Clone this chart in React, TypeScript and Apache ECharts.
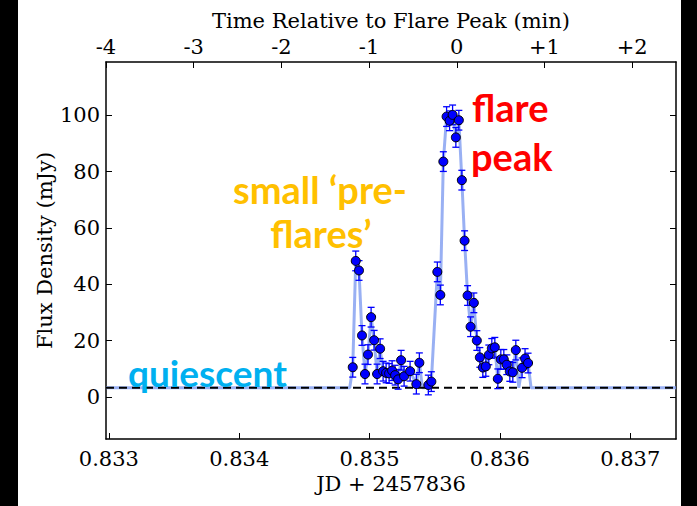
import React, { useEffect, useRef } from "react";
import * as echarts from "echarts";

// Observed samples (JD - 2457836), flux density (mJy) and 1-sigma errors
const obsTime = [
  0.834871, 0.834894, 0.834919, 0.834942, 0.834965, 0.834988, 0.835012, 0.835035,
  0.835058, 0.835081, 0.835104, 0.835127, 0.835150, 0.835173, 0.835196, 0.835219,
  0.835242, 0.835265, 0.835311, 0.835359, 0.835382, 0.835451, 0.835474, 0.835520,
  0.835543, 0.835566, 0.835591, 0.835614, 0.835637, 0.835662, 0.835685, 0.835708,
  0.835729, 0.835752, 0.835775, 0.835800, 0.835823, 0.835846, 0.835869, 0.835892,
  0.835915, 0.835938, 0.835961, 0.835984, 0.836007, 0.836030, 0.836053, 0.836076,
  0.836099, 0.836122, 0.836170, 0.836193, 0.836216,
];
const obsFlux = [
  10.5, 48.3, 44.9, 21.8, 8.1, 15.0, 28.3, 20.1,
  8.1, 17.1, 9.1, 8.5, 8.3, 9.3, 7.7, 6.2,
  13.0, 7.3, 9.1, 4.5, 12.1, 4.2, 5.4, 44.4,
  36.2, 83.6, 99.6, 98.1, 100.2, 92.2, 98.3, 77.0,
  55.5, 36.0, 24.9, 33.4, 20.0, 14.0, 10.4, 10.8,
  14.9, 17.2, 17.6, 6.4, 13.3, 13.3, 11.4, 9.0,
  8.7, 16.6, 10.3, 13.6, 12.0,
];
const obsErr = [
  3.5, 3.5, 3.5, 3.5, 3.5, 3.5, 3.5, 3.5,
  3.5, 3.5, 3.5, 3.5, 3.5, 3.5, 3.5, 3.5,
  3.5, 3.5, 3.5, 3.5, 3.5, 3.5, 3.5, 3.5,
  3.5, 3.5, 3.5, 3.5, 3.5, 3.5, 3.5, 3.5,
  3.5, 3.5, 3.5, 3.5, 3.5, 3.5, 3.5, 3.5,
  3.5, 3.5, 3.5, 3.5, 3.5, 3.5, 3.5, 3.5,
  3.5, 3.5, 3.5, 3.5, 3.5,
];
// Samples at the quiescent level (line only, no marker)
const baseTime = [0.834848, 0.835405, 0.835428, 0.836145, 0.836239];
const quiescentLevel = 3.2;

const xMin = 0.832978;
const xMax = 0.837351;
const yMin = -15;
const yMax = 119;
const jdTicks = [0.833, 0.834, 0.835, 0.836, 0.837];
const fluxTicks = [0, 20, 40, 60, 80, 100];
const minuteMin = -4;
const minuteMax = 2.5;

const SERIF = "DejaVu Serif";
const FS = 21;

export default function App() {
  const ref = useRef<HTMLDivElement>(null);
  useEffect(() => {
    if (!ref.current) return;
    const chart = echarts.init(ref.current, undefined, { renderer: "svg" });

    const lineData: number[][] = [[xMin, quiescentLevel], [xMax, quiescentLevel]];
    obsTime.forEach((t, i) => lineData.push([t, obsFlux[i]]));
    baseTime.forEach((t) => lineData.push([t, quiescentLevel]));
    lineData.sort((a, b) => a[0] - b[0]);

    const pts = obsTime.map((t, i) => [t, obsFlux[i], obsErr[i]]);

    const axisLineStyle = { color: "#000", width: 1.5 };
    const labelStyle = { fontFamily: SERIF, fontSize: FS, color: "#000" };
    const nameStyle = { fontFamily: SERIF, fontSize: FS, color: "#000" };

    const option: any = {
      animation: false,
      backgroundColor: "#fff",
      grid: { left: 106, right: 21, top: 62, bottom: 67, containLabel: false },
      xAxis: [
        {
          type: "value",
          position: "bottom",
          min: xMin,
          max: xMax,
          axisLine: { show: true, onZero: false, lineStyle: axisLineStyle },
          axisTick: { show: true, inside: true, length: 6, customValues: jdTicks, lineStyle: { color: "#000", width: 1 } },
          axisLabel: { ...labelStyle, margin: 9, customValues: jdTicks, formatter: (v: number) => v.toFixed(3) },
          splitLine: { show: false },
          name: "JD + 2457836",
          nameLocation: "middle",
          nameGap: 31,
          nameTextStyle: nameStyle,
        },
        {
          type: "value",
          position: "top",
          min: minuteMin,
          max: minuteMax,
          interval: 1,
          axisLine: { show: true, onZero: false, lineStyle: axisLineStyle },
          axisTick: { show: true, inside: true, length: 6, lineStyle: { color: "#000", width: 1 } },
          axisLabel: {
            ...labelStyle,
            margin: 5,
            showMinLabel: true,
            showMaxLabel: false,
            formatter: (v: number) => (v > 0 ? "+" + v : String(v)),
          },
          splitLine: { show: false },
          name: "Time Relative to Flare Peak (min)",
          nameLocation: "middle",
          nameGap: 30,
          nameTextStyle: nameStyle,
        },
      ],
      yAxis: [
        {
          type: "value",
          position: "left",
          min: yMin,
          max: yMax,
          axisLine: { show: true, onZero: false, lineStyle: axisLineStyle },
          axisTick: { show: true, inside: true, length: 6, customValues: fluxTicks, lineStyle: { color: "#000", width: 1 } },
          axisLabel: { ...labelStyle, margin: 6, customValues: fluxTicks },
          splitLine: { show: false },
          name: "Flux Density (mJy)",
          nameLocation: "middle",
          nameGap: 51,
          nameMoveOverlap: false,
          nameRotate: 90,
          nameTextStyle: nameStyle,
        },
        {
          type: "value",
          position: "right",
          min: yMin,
          max: yMax,
          axisLine: { show: true, onZero: false, lineStyle: axisLineStyle },
          axisTick: { show: true, inside: true, length: 6, customValues: fluxTicks, lineStyle: { color: "#000", width: 1 } },
          axisLabel: { show: false },
          splitLine: { show: false },
        },
      ],
      series: [
        {
          type: "line",
          xAxisIndex: 0,
          yAxisIndex: 0,
          data: lineData,
          showSymbol: false,
          symbol: "none",
          lineStyle: { color: "#7f9cf0", width: 3, opacity: 0.8 },
          z: 1,
        },
        {
          type: "line",
          xAxisIndex: 0,
          yAxisIndex: 0,
          data: [[xMin, quiescentLevel], [xMax, quiescentLevel]],
          showSymbol: false,
          symbol: "none",
          lineStyle: { color: "#000", width: 2, type: [8, 5] },
          z: 2,
        },
        {
          type: "custom",
          xAxisIndex: 0,
          yAxisIndex: 0,
          data: pts,
          encode: { x: 0, y: 1 },
          z: 3,
          renderItem: (params: any, api: any) => {
            const x = api.value(0);
            const y = api.value(1);
            const e = api.value(2);
            const top = api.coord([x, y + e]);
            const bot = api.coord([x, y - e]);
            const cap = 3.5;
            const style = { stroke: "#0000ff", lineWidth: 1.3 };
            return {
              type: "group",
              children: [
                { type: "line", shape: { x1: top[0], y1: top[1], x2: bot[0], y2: bot[1] }, style },
                { type: "line", shape: { x1: top[0] - cap, y1: top[1], x2: top[0] + cap, y2: top[1] }, style },
                { type: "line", shape: { x1: bot[0] - cap, y1: bot[1], x2: bot[0] + cap, y2: bot[1] }, style },
              ],
            };
          },
        },
        {
          type: "scatter",
          xAxisIndex: 0,
          yAxisIndex: 0,
          data: pts.map((p) => [p[0], p[1]]),
          symbol: "circle",
          symbolSize: 9,
          itemStyle: { color: "#0000ff", borderColor: "#000", borderWidth: 1, opacity: 1 },
          z: 4,
        },
      ],
      graphic: [
        { type: "rect", left: 0, top: 0, shape: { width: 18, height: 506 }, style: { fill: "#000" }, z: 100 },
        { type: "rect", left: 681, top: 0, shape: { width: 16, height: 506 }, style: { fill: "#000" }, z: 100 },
        {
          type: "text", x: 128, y: 372, z: 50,
          style: { text: "quiescent", fill: "#00b0f0", font: "bold 37px Lato", textAlign: "left", textVerticalAlign: "middle" },
        },
        {
          type: "text", x: 320, y: 189, z: 50,
          style: { text: "small \u2018pre-", fill: "#ffc000", font: "bold 38px Lato", textAlign: "center", textVerticalAlign: "middle" },
        },
        {
          type: "text", x: 321, y: 233, z: 50,
          style: { text: "flares\u2019", fill: "#ffc000", font: "bold 38px Lato", textAlign: "center", textVerticalAlign: "middle" },
        },
        {
          type: "text", x: 472, y: 107, z: 50,
          style: { text: "flare", fill: "#ff0000", font: "bold 38px Lato", textAlign: "left", textVerticalAlign: "middle" },
        },
        {
          type: "text", x: 471, y: 156, z: 50,
          style: { text: "peak", fill: "#ff0000", font: "bold 38px Lato", textAlign: "left", textVerticalAlign: "middle" },
        },
      ],
    };
    chart.setOption(option);
    return () => chart.dispose();
  }, []);
  return (
    <div
      ref={ref}
      style={{ position: "fixed", left: 0, top: 0, width: 697, height: 506, background: "#fff" }}
    />
  );
}
